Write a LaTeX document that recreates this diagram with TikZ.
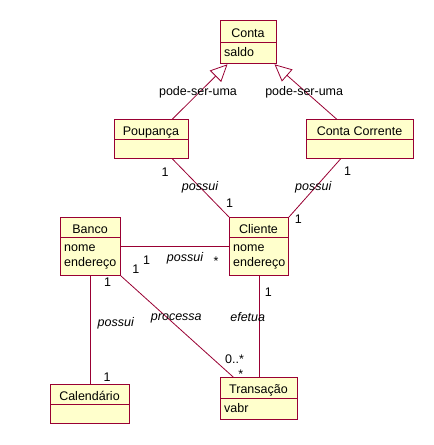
\documentclass[tikz,border=0pt]{standalone}
\usepackage{fontspec}
\setmainfont{Liberation Sans}
\usetikzlibrary{arrows.meta}
\definecolor{umlred}{HTML}{990033}
\definecolor{umlfill}{HTML}{FFFFCC}
\tikzset{
  classbox/.style={draw=umlred, fill=umlfill, line width=1pt, inner sep=0pt, rectangle},
  boxline/.style={draw=umlred, line width=1pt},
  conn/.style={draw=umlred, line width=0.8pt},
  gen/.style={conn, -{Triangle[open, length=17pt, width=16pt, fill=white]}},
  titletext/.style={inner sep=0pt, anchor=base, font=\fontsize{12.5}{15}\selectfont},
  attrtext/.style={inner sep=0pt, anchor=base west, font=\fontsize{12.5}{15}\selectfont},
  lbl/.style={inner sep=0pt, anchor=base, font=\fontsize{12.5}{15}\selectfont},
  ilbl/.style={inner sep=0pt, anchor=base, font=\fontsize{12.5}{15}\selectfont\itshape},
}
% name, x1, y1, x2, y2, ydiv, title, first attribute
\newcommand\umlbox[8]{%
  \node[classbox, minimum width={#4-#2}, minimum height={#5-#3}, anchor=north west] (#1) at (#2,#3) {};
  \draw[boxline] (#1.west |- 0,#6) -- (#1.east |- 0,#6);
  \node[titletext] (#1-title) at ({(#2+#4)/2}, {(#3+#6)/2+6}) {#7};
  \node[attrtext] (#1-attr) at ({#2+4}, {#6+14}) {#8};
}
\begin{document}
\begin{tikzpicture}[x=1pt, y=-1pt]
\useasboundingbox (0,0) rectangle (434,445);
\fill[white] (0,0) rectangle (434,445);

\umlbox{conta}{220}{20}{276}{63.3}{42.7}{Conta}{saldo}
\umlbox{poup}{114}{119}{188}{158}{139}{Poupança}{}
\umlbox{cc}{306}{119}{413}{158}{139}{Conta Corrente}{}
\umlbox{banco}{60}{217}{120}{275}{237}{Banco}{nome}
\node[attrtext] (banco-attr2) at (64,266) {endereço};
\umlbox{cliente}{229}{217}{288}{275}{237}{Cliente}{nome}
\node[attrtext] (cliente-attr2) at (233,266) {endereço};
\umlbox{cal}{50}{384}{129}{423}{404}{Calendário}{}
\umlbox{trans}{220}{377.3}{297}{419.3}{398.3}{Transação}{vabr}

% generalizations
\draw[gen] ([xshift=21pt]poup.north) -- ([xshift=-21pt]conta.south);
\draw[gen] ([xshift=-23.5pt]cc.north) -- ([xshift=26pt]conta.south);
\node[lbl] (g1) at (198,95.7) {pode-ser-uma};
\node[lbl] (g2) at (304.2,95.7) {pode-ser-uma};

% associations
\draw[conn] ([xshift=21pt]poup.south) -- (cliente.north west);
\draw[conn] ([xshift=-19.5pt]cc.south) -- (cliente.north east);
\draw[conn] (banco.east) -- (cliente.west);
\draw[conn] (banco.south) -- (banco.south |- cal.north);
\draw[conn] (banco.south east) -- ([xshift=-25.5pt]trans.north);
\draw[conn] (cliente.south) -- (trans.north);

% labels
\node[lbl] (m1) at (165,176.7) {1};
\node[ilbl] (a1) at (200,190) {possui};
\node[lbl] (m2) at (229.7,207.3) {1};
\node[lbl] (m3) at (347.5,175.7) {1};
\node[ilbl] (a2) at (313.3,190) {possui};
\node[lbl] (m4) at (298.3,223.3) {1};
\node[lbl] (m5) at (146.7,264) {1};
\node[lbl] (m6) at (135.8,273.3) {1};
\node[ilbl] (a3) at (185,261.7) {possui};
\node[lbl] (m7) at (216,265.4) {*};
\node[lbl] (m8) at (107.5,286.7) {1};
\node[lbl] (m9) at (268.3,296.7) {1};
\node[ilbl] (a4) at (115.8,326) {possui};
\node[ilbl] (a5) at (176.3,320.7) {processa};
\node[ilbl] (a6) at (247.7,321.7) {efetua};
\node[lbl] (m10) at (234.5,363.3) {0..*};
\node[lbl] (m11) at (240.8,378) {*};
\node[lbl] (m12) at (107.2,381.7) {1};
\end{tikzpicture}
\end{document}
